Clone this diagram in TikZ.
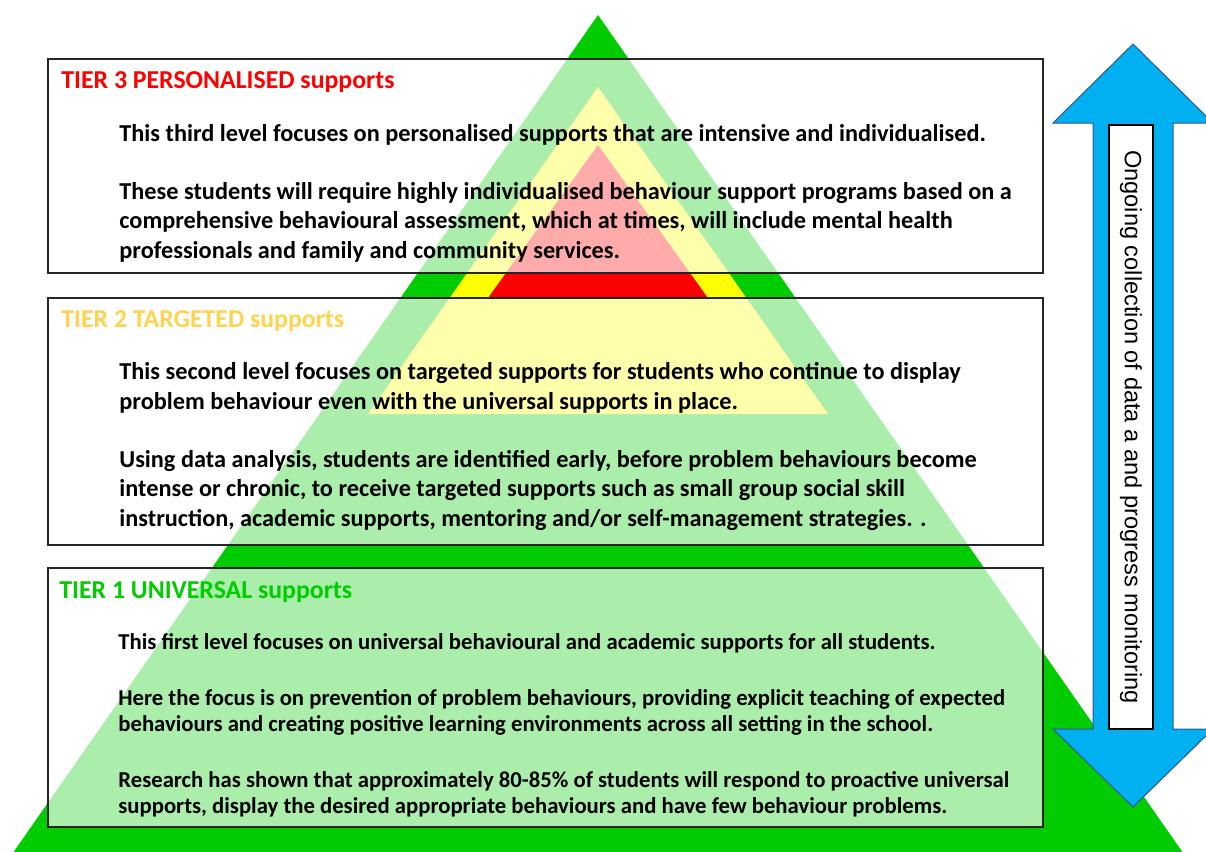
\documentclass[tikz,border=0pt]{standalone}
\usepackage{fontspec}
\setmainfont{Carlito}
\newfontfamily\arialfont{Liberation Sans}
\usepackage{tikz}
\usetikzlibrary{positioning}
\definecolor{tgreen}{HTML}{00CC00}
\definecolor{tyellow}{HTML}{FFFF00}
\definecolor{tred}{HTML}{FF0000}
\definecolor{tgold}{HTML}{FFD34E}
\definecolor{arrc}{HTML}{00B0F0}
\definecolor{arrl}{HTML}{2F5597}
\tikzset{
  tierbox/.style={draw=black!85,line width=0.7pt,fill=white,fill opacity=0.67},
  ttl/.style={anchor=base west,inner sep=0pt,font=\fontsize{12.9}{15}\selectfont\bfseries},
  txt/.style={anchor=base west,inner sep=0pt,align=left,font=\fontsize{12.15}{14.75}\selectfont\bfseries},
  txts/.style={txt,font=\fontsize{11.35}{13}\selectfont\bfseries},
  vlab/.style={draw=black,line width=0.6pt,fill=white,rotate=-90,inner sep=0pt,minimum width=302pt,minimum height=22pt,font=\arialfont\fontsize{11.8}{14}\selectfont}
}
\begin{document}
\begin{tikzpicture}[x=0.5pt,y=-0.5pt]
\useasboundingbox (0,0) rectangle (1206,852);
\clip (0,0) rectangle (1206,852);
\fill[tgreen] (598,15) -- (1195,870) -- (1,870) -- cycle;
\fill[tyellow] (598,87) -- (828,414) -- (368,414) -- cycle;
\fill[tred] (598,145) -- (708,298) -- (488,298) -- cycle;
\foreach \ya/\yb in {59/273,298/545,568/827}{\draw[tierbox] (48,\ya) rectangle (1043,\yb);}
\node[ttl,tred] (t3title) at (61,88) {TIER 3 PERSONALISED supports};
\node[txt] (t3a) at (119,141.5) {This third level focuses on personalised supports that are intensive and individualised.};
\node[txt] (t3b) at (119,258) {These students will require highly individualised behaviour support programs based on a\\comprehensive behavioural assessment, which at times, will include mental health\\professionals and family and community services.};
\node[ttl,tgold] (t2title) at (61,327) {TIER 2 TARGETED supports};
\node[txt] (t2a) at (119,409) {This second level focuses on targeted supports for students who continue to display\\problem behaviour even with the universal supports in place.};
\node[txt] (t2b) at (119,526) {Using data analysis, students are identified early, before problem behaviours become\\intense or chronic, to receive targeted supports such as small group social skill\\instruction, academic supports, mentoring and/or self-management strategies. .};
\node[ttl,tgreen] (t1title) at (59,598) {TIER 1 UNIVERSAL supports};
\node[txts] (t1a) at (118,649) {This first level focuses on universal behavioural and academic supports for all students.};
\node[txts] (t1b) at (118,731) {Here the focus is on prevention of problem behaviours, providing explicit teaching of expected\\behaviours and creating positive learning environments across all setting in the school.};
\node[txts] (t1c) at (118,813) {Research has shown that approximately 80-85\% of students will respond to proactive universal\\supports, display the desired appropriate behaviours and have few behaviour problems.};
\filldraw[fill=arrc,draw=arrl,line width=0.5pt] (1133,44) -- (1213,123) -- (1173,123) -- (1173,729) -- (1213,729) -- (1133,807) -- (1053,729) -- (1093,729) -- (1093,123) -- (1053,123) -- cycle;
\node[vlab] (monitor) at (1131,427) {Ongoing collection of data a and progress monitoring};
\end{tikzpicture}
\end{document}
